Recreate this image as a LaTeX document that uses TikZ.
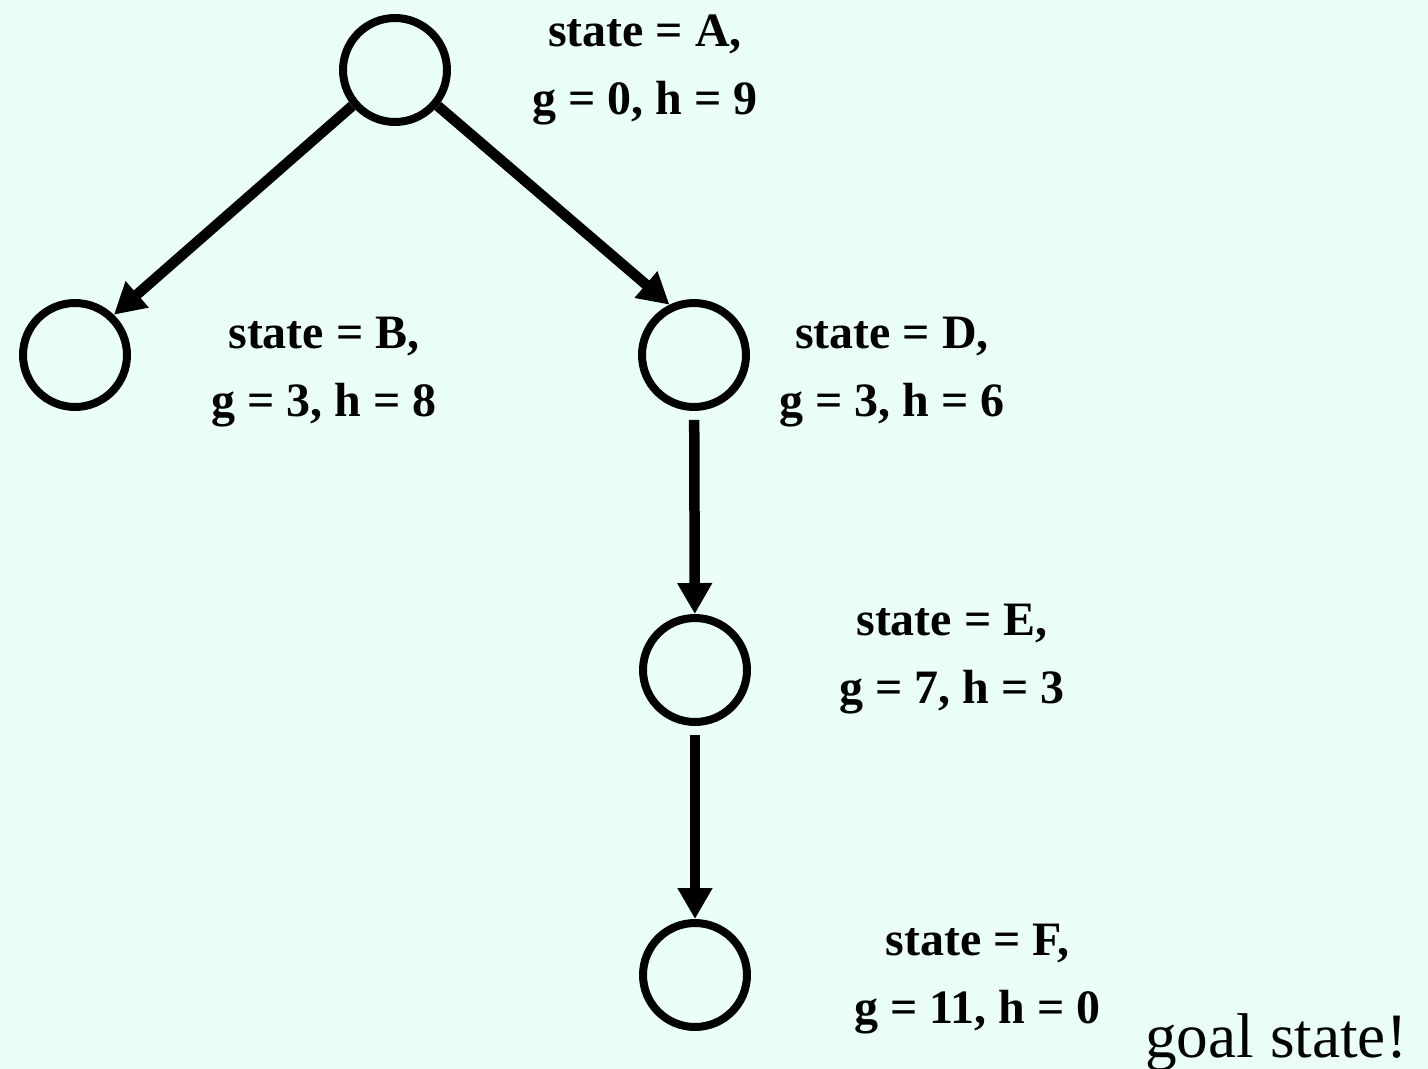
\documentclass[tikz,border=0pt]{standalone}
\usepackage{fontspec}
\setmainfont{Liberation Serif}
\usetikzlibrary{arrows.meta, positioning}
\definecolor{mintbg}{RGB}{234,255,245}
\tikzset{
  statenode/.style={
    circle, draw=black, line width=0.16cm,
    minimum size=2.08cm, inner sep=0pt
  },
  infolbl/.style={
    inner sep=0pt, align=center,
    font=\fontsize{27.3}{38.5}\selectfont\bfseries
  },
  goaltext/.style={inner sep=0pt, font=\fontsize{36}{40}\selectfont},
  arrow/.style={line width=0.21cm, -{Triangle[length=0.62cm, width=0.66cm]}},
}
\begin{document}
\begin{tikzpicture}[x=0.02cm, y=-0.02cm]

  % --- fondo ---
  \fill[mintbg] (0,0) rectangle (1428,1069);
  \useasboundingbox (0,0) rectangle (1428,1069);

  % --- estados ---
  \node (a) [statenode] at (395,70)  {};
  \node (b) [statenode] at (75,355)  {};
  \node (d) [statenode] at (694,355) {};
  \node (e) [statenode] at (695,670) {};
  \node (f) [statenode] at (695,975) {};

  % --- etiquetas de cada estado ---
  \node (albl) [infolbl, right=1.62cm of a]                 {state = A,\\g = 0, h = 9};
  \node (blbl) [infolbl, right=1.6cm of b, yshift=-0.34cm]  {state = B,\\g = 3, h = 8};
  \node (dlbl) [infolbl, right=0.58cm of d, yshift=-0.34cm] {state = D,\\g = 3, h = 6};
  \node (elbl) [infolbl, right=1.76cm of e, yshift=0.22cm]  {state = E,\\g = 7, h = 3};
  \node (flbl) [infolbl, right=2.06cm of f, yshift=-0.08cm] {state = F,\\g = 11, h = 0};
  \node (goal) [goaltext, anchor=base west] at (1145,1057)  {goal state!};

  % --- flechas ---
  \draw[arrow] (a.-140) -- (b.46);
  \draw[arrow] (a.-40)  -- (d.116);
  \draw[arrow, shorten <=5pt] (d) -- (e);
  \draw[arrow, shorten <=5pt] (e) -- (f);

\end{tikzpicture}
\end{document}
